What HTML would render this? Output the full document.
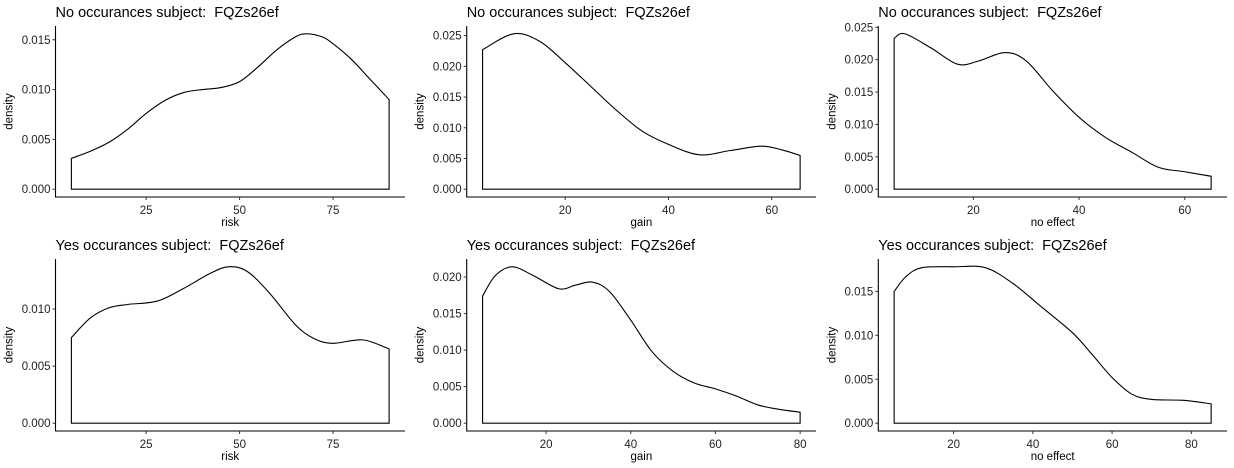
<!DOCTYPE html>
<html><head><meta charset="utf-8">
<style>
html,body{margin:0;padding:0;background:#fff;}
svg{display:block;font-family:"Liberation Sans",Arial,sans-serif;}
text{white-space:pre;}
</style></head>
<body>
<svg id="chart" width="1234" height="468" viewBox="0 0 1234 468"></svg>
<script>
// Panel data (x values, density values)
const p1X = [5,10,15,20,25,30,35,40,45,50,55,60,65,68,72,75,80,85,90];
const p1Y = [0.0031,0.0038,0.0047,0.0060,0.0076,0.0089,0.0097,0.0100,0.0102,0.0108,0.0123,0.0140,0.0153,0.0156,0.0153,0.0146,0.0130,0.0110,0.0090];
const p2X = [4,10,15,20,25,30,35,40,46,52,58,62,65.5];
const p2Y = [0.0227,0.0253,0.0241,0.0206,0.0167,0.0128,0.0094,0.0073,0.0056,0.0063,0.0070,0.0064,0.0055];
const p3X = [5,7,12,17,21,26,30,35,40,45,50,55,60,65];
const p3Y = [0.0233,0.0240,0.0218,0.0193,0.0198,0.0211,0.0198,0.0152,0.0111,0.0080,0.0057,0.0034,0.0027,0.0020];
const p4X = [5,10,15,20,28,35,42,47,52,58,65,70,75,83,90];
const p4Y = [0.0075,0.0092,0.0101,0.0104,0.0107,0.0118,0.0131,0.0137,0.0133,0.0114,0.0086,0.0074,0.0070,0.0073,0.0065];
const p5X = [5,8,12,17,23,27,31,35,40,45,50,55,60,65,70,75,80];
const p5Y = [0.0174,0.0202,0.0214,0.0202,0.0184,0.0189,0.0193,0.0180,0.0141,0.0098,0.0071,0.0055,0.0047,0.0037,0.0025,0.0019,0.0015];
const p6X = [5,8,12,20,28,35,42,50,55,60,65,70,78,85];
const p6Y = [0.0150,0.0167,0.0177,0.0178,0.0177,0.0159,0.0133,0.0103,0.0078,0.0052,0.0033,0.0027,0.0026,0.0022];
const titles = ["No occurances subject:  FQZs26ef","No occurances subject:  FQZs26ef","No occurances subject:  FQZs26ef","Yes occurances subject:  FQZs26ef","Yes occurances subject:  FQZs26ef","Yes occurances subject:  FQZs26ef"];
const xTitles = ["risk","gain","no effect","risk","gain","no effect"];
const xTicks1 = [25,50,75];
const xTicks2 = [20,40,60];
const xTicks3 = [20,40,60,80];
const yTicksA = [0,0.005,0.010,0.015];
const yTicksB = [0,0.005,0.010,0.015,0.020,0.025];
const yTicksC = [0,0.005,0.010];
const yTicksD = [0,0.005,0.010,0.015,0.020];

const NS="http://www.w3.org/2000/svg";
const svg=document.getElementById('chart');
function mk(tag,attrs,parent){const e=document.createElementNS(NS,tag);for(const k in attrs)e.setAttribute(k,attrs[k]);(parent||svg).appendChild(e);return e;}

const panels=[
 {X:p1X,Y:p1Y,xt:xTicks1,yt:yTicksA,left:55.5,right:405,top:26,bottom:197},
 {X:p2X,Y:p2Y,xt:xTicks2,yt:yTicksB,left:466.7,right:816,top:26,bottom:197},
 {X:p3X,Y:p3Y,xt:xTicks2,yt:yTicksB,left:878.3,right:1227,top:26,bottom:197},
 {X:p4X,Y:p4Y,xt:xTicks1,yt:yTicksC,left:55.5,right:405,top:259,bottom:431},
 {X:p5X,Y:p5Y,xt:xTicks3,yt:yTicksD,left:466.7,right:816,top:259,bottom:431},
 {X:p6X,Y:p6Y,xt:xTicks3,yt:yTicksB.slice(0,4),left:878.3,right:1227,top:259,bottom:431}
];

panels.forEach((p,i)=>{
  const g=mk('g',{});
  
  
  const xmin=Math.min(...p.X),xmax=Math.max(...p.X),ymax=Math.max(...p.Y);
  const xr=xmax-xmin, x0=xmin-0.05*xr, x1=xmax+0.05*xr;
  const y0=-0.05*ymax, y1=1.05*ymax;
  const sx=v=>p.left+(v-x0)/(x1-x0)*(p.right-p.left);
  const sy=v=>p.bottom-(v-y0)/(y1-y0)*(p.bottom-p.top);
  // curve (Catmull-Rom)
  const pts=p.X.map((v,k)=>[sx(v),sy(p.Y[k])]);
  let d=`M${sx(xmin)},${sy(0)}L${pts[0][0]},${pts[0][1]}`;
  for(let k=0;k<pts.length-1;k++){
    const a=pts[Math.max(k-1,0)],b=pts[k],c=pts[k+1],e=pts[Math.min(k+2,pts.length-1)];
    const c1=[b[0]+(c[0]-a[0])/6,b[1]+(c[1]-a[1])/6];
    const c2=[c[0]-(e[0]-b[0])/6,c[1]-(e[1]-b[1])/6];
    d+=`C${c1[0]},${c1[1]} ${c2[0]},${c2[1]} ${c[0]},${c[1]}`;
  }
  d+=`L${sx(xmax)},${sy(0)}Z`;
  const cur=mk('path',{d:d,fill:'none',stroke:'#000','stroke-width':1.1},g);
  
  
  // title
  const t=mk('text',{x:p.left,y:p.top-9,'font-size':14.5,fill:'#000'},g);
  t.textContent=titles[i];
  
  
  // axes
  const ax=mk('path',{d:`M${p.left},${p.top}V${p.bottom}H${p.right}`,fill:'none',stroke:'#000','stroke-width':1.1},g);
  
  
  p.yt.forEach(v=>{
    if(v>y1)return;
    const y=sy(v);
    mk('line',{x1:p.left-3,x2:p.left,y1:y,y2:y,stroke:'#333','stroke-width':1},g);
    const l=mk('text',{x:p.left-5,y:y+4,'font-size':11.5,'text-anchor':'end',fill:'#222'},g);
    l.textContent=v.toFixed(3);
    
    
  });
  p.xt.forEach(v=>{
    if(v<x0||v>x1)return;
    const x=sx(v);
    mk('line',{x1:x,x2:x,y1:p.bottom,y2:p.bottom+3,stroke:'#333','stroke-width':1},g);
    const l=mk('text',{x:x,y:p.bottom+17,'font-size':11.5,'text-anchor':'middle',fill:'#222'},g);
    l.textContent=String(v);
    
    
  });
  const xt=mk('text',{x:(p.left+p.right)/2,y:p.bottom+29,'font-size':11.5,'text-anchor':'middle',fill:'#000'},g);
  xt.textContent=xTitles[i];
  
  
  const cy=(p.top+p.bottom)/2, cx=p.left-43;
  const yt=mk('text',{x:cx,y:cy,'font-size':11.5,'text-anchor':'middle',fill:'#000',transform:`rotate(-90 ${cx} ${cy})`},g);
  yt.textContent='density';
  
  
});
</script>
</body></html>
